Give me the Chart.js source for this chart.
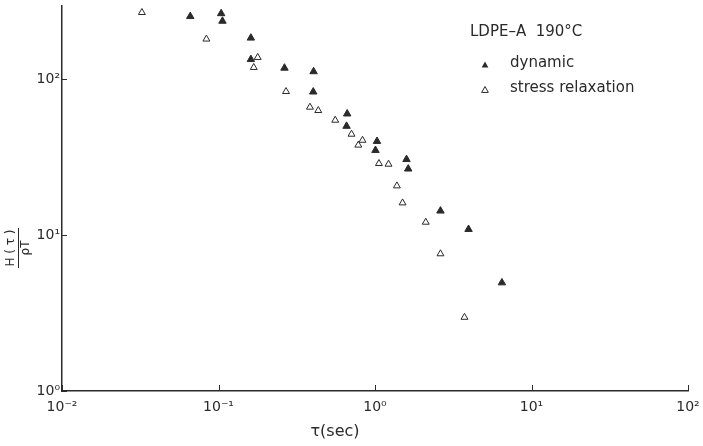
<!DOCTYPE html>
<html>
<head>
<meta charset="utf-8">
<script src="https://cdn.jsdelivr.net/npm/chart.js@4/dist/chart.umd.min.js"></script>
<style>
  html, body { margin: 0; padding: 0; background: #fff; }
  #wrap { width: 703px; height: 446px; }
</style>
</head>
<body>
<div id="wrap"><canvas id="spectrumChart" width="703" height="446"></canvas></div>
<script>
// relaxation spectrum, LDPE-A at 190 C
const dynamicTau = [0.066, 0.104, 0.106, 0.161, 0.161, 0.264, 0.405, 0.403, 0.664, 0.658, 1.03, 1.007, 1.59, 1.63, 2.62, 3.96, 6.47];
const dynamicH   = [253, 264, 236, 184, 134, 118, 112, 83, 60, 50, 40, 35, 30.6, 26.6, 14.3, 10.9, 4.95];

const relaxTau = [0.0324, 0.0837, 0.178, 0.168, 0.270, 0.384, 0.434, 0.557, 0.708, 0.782, 0.832, 1.06, 1.22, 1.38, 1.50, 2.11, 2.62, 3.73];
const relaxH   = [268, 181, 138, 119, 83.4, 66.2, 63, 54.6, 44.4, 37.8, 40.6, 28.8, 28.5, 20.7, 16.1, 12.1, 7.59, 2.97];

const xTicks = [0.01, 0.1, 1, 10, 100];
const yTicks = [1, 10, 100];
const xTickLabels = ["10⁻²", "10⁻¹", "10⁰", "10¹", "10²"];
const yTickLabels = ["10⁰", "10¹", "10²"];

const ink = "#2a2a2a";
const fontFamily = "'DejaVu Sans', sans-serif";

function toPoints(xs, ys) {
    return xs.map((x, i) => ({ x: x, y: ys[i] }));
}

function triangle(ctx, x, y, r, filled) {
    ctx.beginPath();
    ctx.moveTo(x, y - r);
    ctx.lineTo(x + r * 0.95, y + r * 0.7);
    ctx.lineTo(x - r * 0.95, y + r * 0.7);
    ctx.closePath();
    if (filled) {
        ctx.fillStyle = ink;
        ctx.fill();
    } else {
        ctx.fillStyle = "#fff";
        ctx.fill();
        ctx.lineWidth = 1;
        ctx.strokeStyle = ink;
        ctx.stroke();
    }
}

const annotations = {
    id: "annotations",
    afterDraw(chart) {
        const ctx = chart.ctx;
        const xs = chart.scales.x;
        const ys = chart.scales.y;
        ctx.save();

        // inward tick marks at decades
        ctx.strokeStyle = ink;
        ctx.lineWidth = 1;
        xTicks.forEach(v => {
            const px = Math.round(xs.getPixelForValue(v)) + 0.5;
            ctx.beginPath();
            ctx.moveTo(px, ys.bottom);
            ctx.lineTo(px, ys.bottom - 6);
            ctx.stroke();
        });
        yTicks.forEach(v => {
            const py = Math.round(ys.getPixelForValue(v)) + 0.5;
            ctx.beginPath();
            ctx.moveTo(xs.left, py);
            ctx.lineTo(xs.left + 5, py);
            ctx.stroke();
        });

        ctx.textBaseline = "middle";

        // x axis title
        ctx.fillStyle = ink;
        ctx.font = "16px " + fontFamily;
        ctx.textAlign = "center";
        ctx.fillText("τ(sec)", 335, 432);

        // legend block
        ctx.textAlign = "left";
        ctx.font = "15px " + fontFamily;
        ctx.fillText("LDPE–A  190°C", 470, 32);
        ctx.fillText("dynamic", 510, 63);
        ctx.fillText("stress relaxation", 510, 88);
        triangle(ctx, 485, 65, 3.5, true);
        triangle(ctx, 485, 90, 3.5, false);

        // y axis title as a rotated fraction
        ctx.fillStyle = ink;
        ctx.strokeStyle = ink;
        ctx.translate(18, 248);
        ctx.rotate(-Math.PI / 2);
        ctx.textAlign = "center";
        ctx.font = "12px " + fontFamily;
        ctx.fillText("H ( τ )", 0, -7);
        ctx.fillText("ρT", 0, 8);
        ctx.lineWidth = 1;
        ctx.beginPath();
        ctx.moveTo(-20, 0.5);
        ctx.lineTo(20, 0.5);
        ctx.stroke();

        ctx.restore();
    }
};

const ctx = document.getElementById("spectrumChart").getContext("2d");

new Chart(ctx, {
    type: "scatter",
    data: {
        datasets: [
            {
                label: "dynamic",
                data: toPoints(dynamicTau, dynamicH),
                pointStyle: "triangle",
                pointRadius: 4.3,
                backgroundColor: ink,
                borderColor: ink,
                borderWidth: 1
            },
            {
                label: "stress relaxation",
                data: toPoints(relaxTau, relaxH),
                pointStyle: "triangle",
                pointRadius: 4,
                backgroundColor: "#fff",
                borderColor: ink,
                borderWidth: 1
            }
        ]
    },
    options: {
        responsive: false,
        animation: false,
        layout: { padding: { top: 6, right: 15, left: 0, bottom: 0 } },
        plugins: {
            legend: { display: false },
            tooltip: { enabled: false }
        },
        scales: {
            x: {
                type: "logarithmic",
                min: 0.01,
                max: 100,
                afterBuildTicks: s => { s.ticks = xTicks.map(v => ({ value: v })); },
                afterFit: s => { s.height = 55; s.paddingLeft = 0; s.paddingRight = 0; },
                grid: { display: true, drawOnChartArea: false, drawTicks: false },
                border: { display: true, color: ink, width: 1.5 },
                ticks: {
                    color: ink,
                    padding: 8,
                    maxRotation: 0,
                    autoSkip: false,
                    font: { family: fontFamily, size: 14 },
                    callback: v => xTickLabels[xTicks.indexOf(v)] || ""
                }
            },
            y: {
                type: "logarithmic",
                min: 1,
                max: 295,
                afterBuildTicks: s => { s.ticks = yTicks.map(v => ({ value: v })); },
                afterFit: s => { s.width = 62; s.paddingTop = 0; s.paddingBottom = 0; },
                grid: { display: true, drawOnChartArea: false, drawTicks: false },
                border: { display: true, color: ink, width: 1.5 },
                ticks: {
                    color: ink,
                    padding: 2,
                    autoSkip: false,
                    font: { family: fontFamily, size: 14 },
                    callback: v => yTickLabels[yTicks.indexOf(v)] || ""
                }
            }
        }
    },
    plugins: [annotations]
});
</script>
</body>
</html>
